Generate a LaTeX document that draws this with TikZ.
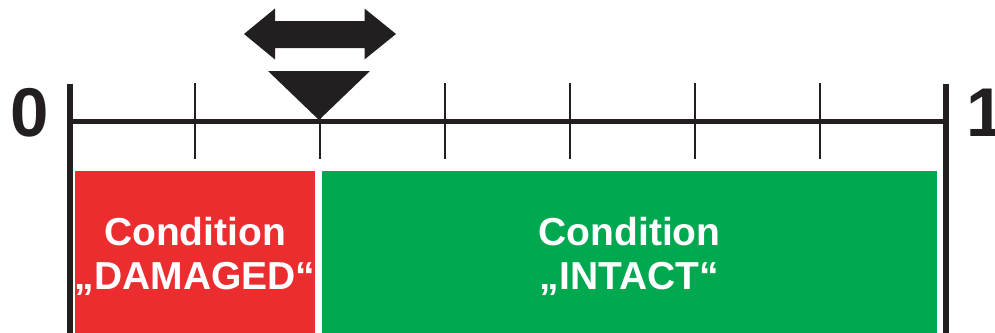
\documentclass[tikz,border=0pt]{standalone}
\usepackage{fontspec}
\setmainfont{Liberation Sans}
\definecolor{inkblack}{HTML}{231F20}
\definecolor{dmgred}{HTML}{EC2D30}
\definecolor{okgreen}{HTML}{00A84F}
\begin{document}
\begin{tikzpicture}[x=1pt,y=-1pt,
  label text/.style={text=white,font=\fontsize{39}{44}\selectfont\bfseries,align=center,inner sep=0pt,anchor=base},
  big digit/.style={text=inkblack,font=\fontsize{69}{80}\selectfont\bfseries,inner sep=0pt,anchor=base},
  tickline/.style={draw=inkblack,line width=1.8pt},
  axisline/.style={draw=inkblack,line width=5pt},
  endbar/.style={draw=inkblack,line width=6pt}]
\useasboundingbox (0,0) rectangle (995,332);
% coloured blocks
\fill[dmgred] (75,171) rectangle (314.5,335);
\fill[okgreen] (322,171) rectangle (937,335);
% ticks
\foreach \tx in {195,320,445,570,695,820}
  \draw[tickline] (\tx,83) -- (\tx,159);
% axis
\coordinate (a0) at (68,121);
\coordinate (a1) at (945,121);
\draw[axisline] (a0) -- (a1);
\coordinate (b0t) at (70,84);
\coordinate (b0b) at (70,335);
\coordinate (b1t) at (945.5,84);
\coordinate (b1b) at (945.5,335);
\draw[endbar] (b0t) -- (b0b);
\draw[endbar] (b1t) -- (b1b);
% marker triangle
\fill[inkblack] (268,71) -- (370,71) -- (319,120) -- cycle;
% double arrow
\fill[inkblack] (244,34) -- (275,8.5) -- (275,21) -- (364.5,21) -- (364.5,8.5) -- (396,34)
  -- (364.5,59.5) -- (364.5,48) -- (275,48) -- (275,59.5) -- cycle;
% labels
\node[big digit] (zero) at (30,136.5) {0};
\node[big digit,anchor=base west] (one) at (966,136.5) {1};
\node[label text] (dmg) at (195,289.5) {Condition\\„DAMAGED“};
\node[label text] (ok) at (629.5,289.5) {Condition\\„INTACT“};
\end{tikzpicture}
\end{document}
